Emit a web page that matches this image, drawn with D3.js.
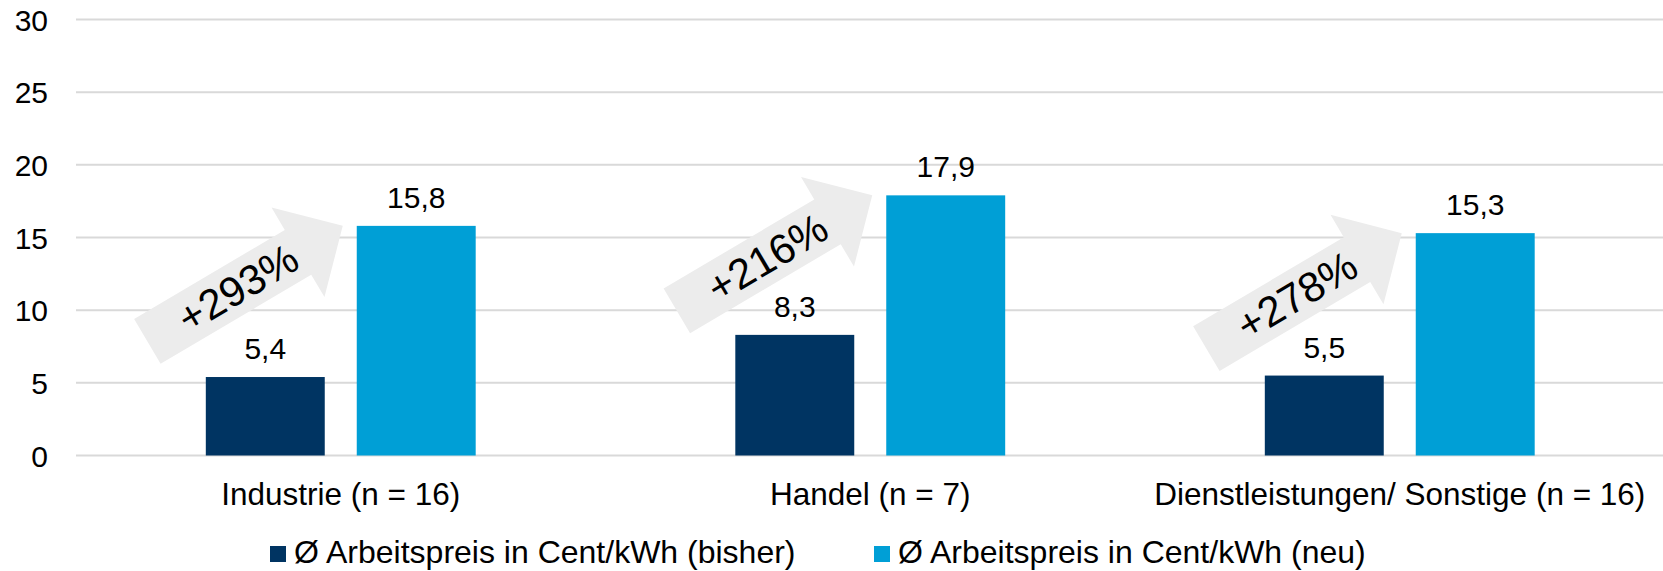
<!DOCTYPE html>
<meta charset="utf-8">
<style>
  body { margin: 0; background: #fff; }
  text { font-family: "Liberation Sans", Arial, sans-serif; fill: #000; }
  .grid line { stroke: #d9d9d9; stroke-width: 2px; }
</style>
<body>
<div id="chart"></div>
<script src="https://d3js.org/d3.v7.min.js"></script>
<script>
  // chart data
  var categories = ["Industrie (n = 16)", "Handel (n = 7)", "Dienstleistungen/ Sonstige (n = 16)"];
  var seriesNames = ["Ø Arbeitspreis in Cent/kWh (bisher)", "Ø Arbeitspreis in Cent/kWh (neu)"];
  var bisher = [5.4, 8.3, 5.5];
  var neu = [15.8, 17.9, 15.3];
  var increase = ["+293%", "+216%", "+278%"];
  var yTicks = [0, 5, 10, 15, 20, 25, 30];

  var colors = ["#003462", "#009fd6"];

  var width = 1663, height = 571;
  var plotLeft = 76, plotRight = 1664.5, plotTop = 19.5, plotBottom = 455.5;

  var locale = d3.formatLocale({decimal: ",", thousands: ".", grouping: [3], currency: ["", " €"]});
  var fmt = locale.format(".1f");

  var svg = d3.select("#chart").append("svg")
      .attr("width", width)
      .attr("height", height);

  var y = d3.scaleLinear().domain([0, 30]).range([plotBottom, plotTop]);

  var x0 = d3.scaleBand().domain(categories).range([plotLeft, plotRight]).padding(0);

  // two bars per group: 119px wide with a 32px gap
  var x1 = d3.scaleBand().domain(seriesNames)
      .range([0, x0.bandwidth()])
      .paddingInner(0.212)
      .paddingOuter(0.86);

  // gridlines
  svg.append("g").attr("class", "grid")
    .selectAll("line")
    .data(yTicks)
    .enter().append("line")
      .attr("x1", plotLeft)
      .attr("x2", width)
      .attr("y1", function(d) { return y(d); })
      .attr("y2", function(d) { return y(d); });

  // y axis labels
  var yAxis = d3.axisLeft(y).tickValues(yTicks).tickSize(0).tickPadding(0);
  var ya = svg.append("g").attr("transform", "translate(48,0)").call(yAxis);
  ya.select(".domain").remove();
  ya.selectAll("text")
      .attr("font-family", "Liberation Sans, Arial, sans-serif")
      .attr("font-size", 30)
      .attr("fill", "#000")
      .attr("dy", "0.35em");

  var rows = categories.map(function(c, i) {
    return {cat: c, vals: [bisher[i], neu[i]], inc: increase[i]};
  });

  var groups = svg.selectAll(".group")
    .data(rows)
    .enter().append("g")
      .attr("class", "group")
      .attr("transform", function(d) { return "translate(" + x0(d.cat) + ",0)"; });

  // arrows (drawn behind the bars)
  // shape in local coords, tip at origin, pointing along +x
  var arrowLen = 227, headLen = 52, shaftHalf = 26, headHalf = 52;
  var arrowPts = [
    [-arrowLen, -shaftHalf], [-headLen, -shaftHalf], [-headLen, -headHalf], [0, 0],
    [-headLen, headHalf], [-headLen, shaftHalf], [-arrowLen, shaftHalf]
  ];
  var angle = -30.6;

  var arrows = groups.append("g")
      .attr("transform", function(d) {
        var tx = x1(seriesNames[1]) - 14;
        var ty = y(d.vals[1]);
        return "translate(" + tx + "," + ty + ") rotate(" + angle + ")";
      });

  arrows.append("path")
      .attr("d", d3.line()(arrowPts) + "Z")
      .attr("fill", "#ececec");

  arrows.append("text")
      .attr("x", -arrowLen + 105)
      .attr("y", 0)
      .attr("dy", "0.35em")
      .attr("text-anchor", "middle")
      .attr("font-size", 42)
      .text(function(d) { return d.inc; });

  // bars
  groups.selectAll("rect")
    .data(function(d) { return d.vals.map(function(v, j) { return {s: seriesNames[j], v: v, j: j}; }); })
    .enter().append("rect")
      .attr("x", function(d) { return x1(d.s); })
      .attr("width", x1.bandwidth())
      .attr("y", function(d) { return y(d.v); })
      .attr("height", function(d) { return y(0) - y(d.v); })
      .attr("fill", function(d) { return colors[d.j]; });

  // value labels
  groups.selectAll(".val")
    .data(function(d) { return d.vals.map(function(v, j) { return {s: seriesNames[j], v: v}; }); })
    .enter().append("text")
      .attr("class", "val")
      .attr("x", function(d) { return x1(d.s) + x1.bandwidth() / 2; })
      .attr("y", function(d) { return y(d.v) - 18; })
      .attr("text-anchor", "middle")
      .attr("font-size", 30)
      .text(function(d) { return fmt(d.v); });

  // category labels
  var xAxis = d3.axisBottom(x0).tickSize(0).tickPadding(0);
  var xa = svg.append("g").attr("transform", "translate(0,505)").call(xAxis);
  xa.select(".domain").remove();
  xa.selectAll("text")
      .attr("font-family", "Liberation Sans, Arial, sans-serif")
      .attr("font-size", 31.5)
      .attr("fill", "#000")
      .attr("y", 0)
      .attr("dy", 0);

  // legend
  var legendX = [270, 874];
  var leg = svg.selectAll(".legend")
    .data(seriesNames)
    .enter().append("g")
      .attr("class", "legend")
      .attr("transform", function(d, i) { return "translate(" + legendX[i] + ",546)"; });

  leg.append("rect")
      .attr("width", 16)
      .attr("height", 16)
      .attr("fill", function(d, i) { return colors[i]; });

  leg.append("text")
      .attr("x", 24)
      .attr("y", 17)
      .attr("font-size", 32)
      .text(function(d) { return d; });
</script>
</body>
